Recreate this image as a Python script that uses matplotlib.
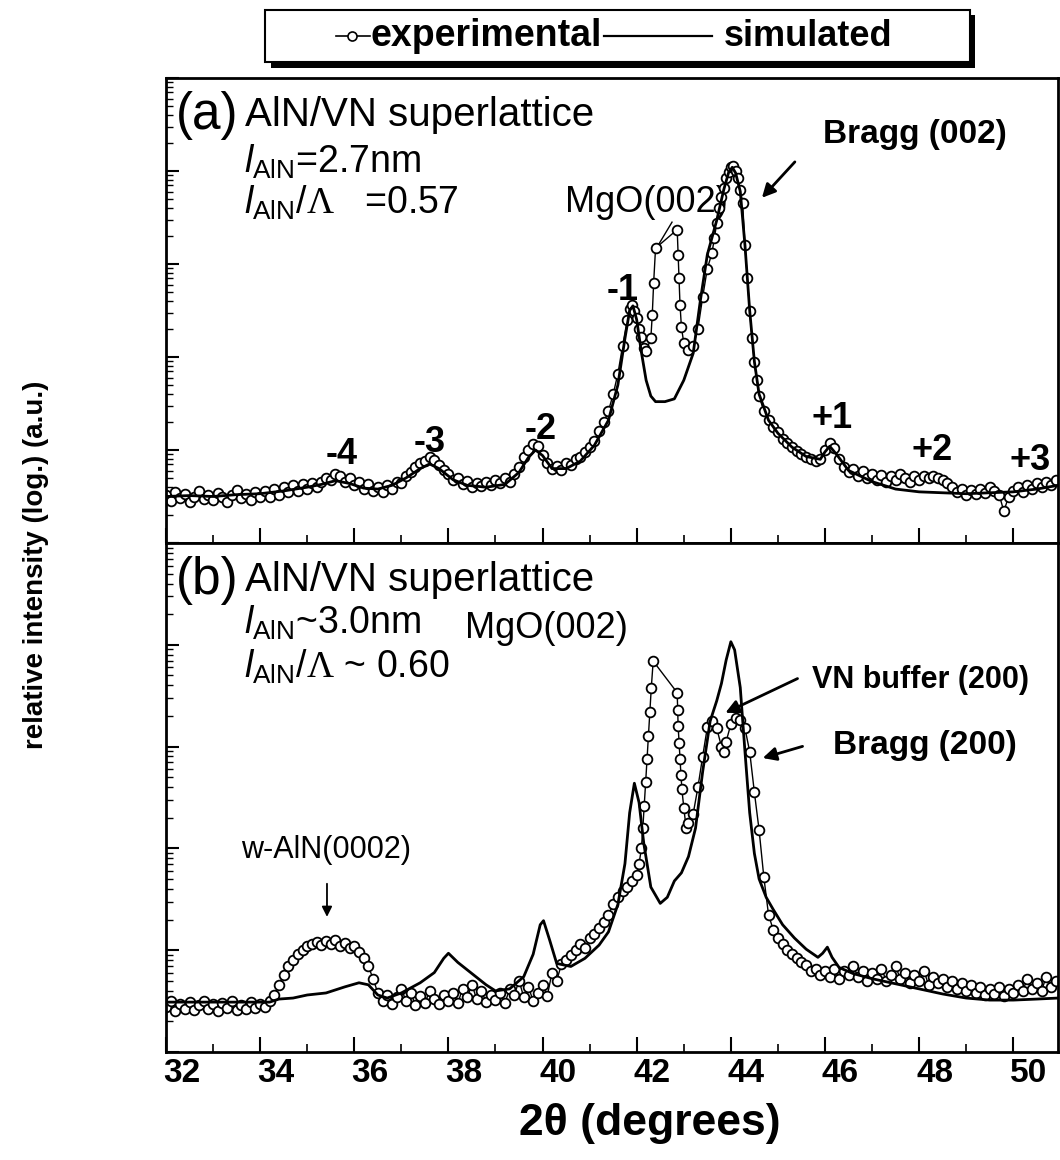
import numpy as np
import matplotlib
matplotlib.use("Agg")
import matplotlib.pyplot as plt
import matplotlib.transforms as mtransforms
from matplotlib.lines import Line2D
from matplotlib.patches import Rectangle
from matplotlib.ticker import MultipleLocator, LogLocator, NullFormatter

plt.rcParams['font.family'] = ['Liberation Sans', 'DejaVu Sans']
plt.rcParams['mathtext.fontset'] = 'custom'
plt.rcParams['mathtext.rm'] = 'Liberation Sans'
plt.rcParams['mathtext.it'] = 'Liberation Sans:italic'
plt.rcParams['mathtext.bf'] = 'Liberation Sans:bold'
plt.rcParams['mathtext.sf'] = 'Liberation Serif'

# ---------------- data (log10 of relative intensity) ----------------
# panel (a) experimental
exp_a_x = [32.0, 32.1, 32.2, 32.3, 32.4, 32.5, 32.6, 32.7, 32.8, 32.9,
           33.0, 33.1, 33.2, 33.3, 33.4, 33.5, 33.6, 33.7, 33.8, 33.9,
           34.0, 34.1, 34.2, 34.3, 34.4, 34.5, 34.6, 34.7, 34.8, 34.9,
           35.0, 35.1, 35.2, 35.3, 35.4, 35.5, 35.6, 35.7, 35.8, 35.9,
           36.0, 36.1, 36.2, 36.3, 36.4, 36.5, 36.6, 36.7, 36.8, 36.9,
           37.0, 37.1, 37.2, 37.3, 37.4, 37.5, 37.6, 37.7, 37.8, 37.9,
           38.0, 38.1, 38.2, 38.3, 38.4, 38.5, 38.6, 38.7, 38.8, 38.9,
           39.0, 39.1, 39.2, 39.3, 39.4, 39.5, 39.6, 39.7, 39.8, 39.9,
           40.0, 40.1, 40.2, 40.3, 40.4, 40.5, 40.6, 40.7, 40.8, 40.9,
           41.0, 41.1, 41.2, 41.3, 41.4, 41.5, 41.6, 41.7, 41.8, 41.85,
           41.9, 41.95, 42.0, 42.05, 42.1, 42.15, 42.2, 42.3, 42.33, 42.36,
           42.4, 42.86, 42.88, 42.9, 42.92, 42.95, 43.0, 43.1, 43.2, 43.3,
           43.4, 43.5, 43.6, 43.65, 43.7, 43.75, 43.8, 43.85, 43.9, 43.95,
           44.0, 44.05, 44.1, 44.15, 44.2, 44.25, 44.3, 44.35, 44.4, 44.45,
           44.5, 44.55, 44.6, 44.7, 44.8, 44.9, 45.0, 45.1, 45.2, 45.3,
           45.4, 45.5, 45.6, 45.7, 45.8, 45.9, 46.0, 46.1, 46.2, 46.3,
           46.4, 46.5, 46.6, 46.7, 46.8, 46.9, 47.0, 47.1, 47.2, 47.3,
           47.4, 47.5, 47.6, 47.7, 47.8, 47.9, 48.0, 48.1, 48.2, 48.3,
           48.4, 48.5, 48.6, 48.7, 48.8, 48.9, 49.0, 49.1, 49.2, 49.3,
           49.4, 49.5, 49.6, 49.7, 49.8, 49.9, 50.0, 50.1, 50.2, 50.3,
           50.4, 50.5, 50.6, 50.7, 50.8, 50.9]
exp_a_log = [0.52, 0.45, 0.55, 0.48, 0.53, 0.44, 0.50, 0.56, 0.47, 0.52,
             0.46, 0.54, 0.49, 0.44, 0.52, 0.57, 0.48, 0.53, 0.46, 0.55,
             0.50, 0.56, 0.49, 0.58, 0.52, 0.60, 0.55, 0.62, 0.56, 0.63,
             0.58, 0.64, 0.60, 0.66, 0.70, 0.68, 0.74, 0.72, 0.66, 0.70,
             0.62, 0.66, 0.58, 0.63, 0.56, 0.60, 0.55, 0.62, 0.58, 0.66,
             0.64, 0.72, 0.76, 0.82, 0.86, 0.88, 0.92, 0.89, 0.84, 0.78,
             0.74, 0.68, 0.70, 0.63, 0.67, 0.60, 0.65, 0.61, 0.66, 0.62,
             0.68, 0.64, 0.70, 0.66, 0.74, 0.82, 0.92, 1.00, 1.06, 1.04,
             0.95, 0.86, 0.80, 0.83, 0.78, 0.86, 0.84, 0.90, 0.92, 0.98,
             1.03, 1.10, 1.20, 1.30, 1.42, 1.60, 1.82, 2.12, 2.40, 2.52,
             2.56, 2.50, 2.42, 2.30, 2.22, 2.10, 2.06, 2.20, 2.45, 2.80,
             3.17, 3.37, 3.10, 2.85, 2.56, 2.32, 2.15, 2.08, 2.12, 2.30,
             2.64, 2.95, 3.12, 3.28, 3.44, 3.60, 3.72, 3.82, 3.92, 3.99,
             4.04, 4.05, 4.00, 3.92, 3.80, 3.66, 3.20, 2.85, 2.50, 2.20,
             1.95, 1.75, 1.58, 1.42, 1.32, 1.25, 1.19, 1.12, 1.07, 1.03,
             0.99, 0.96, 0.93, 0.90, 0.88, 0.90, 1.00, 1.07, 1.02, 0.90,
             0.82, 0.76, 0.80, 0.72, 0.77, 0.70, 0.74, 0.68, 0.73, 0.66,
             0.72, 0.68, 0.74, 0.70, 0.66, 0.72, 0.68, 0.72, 0.70, 0.72,
             0.70, 0.68, 0.64, 0.60, 0.55, 0.58, 0.52, 0.57, 0.53, 0.58,
             0.54, 0.60, 0.56, 0.52, 0.34, 0.50, 0.56, 0.60, 0.55, 0.62,
             0.58, 0.64, 0.60, 0.66, 0.62, 0.68]

# panel (a) simulated
sim_a_x = [32.0, 32.5, 33.0, 33.5, 34.0, 34.5, 35.0, 35.3, 35.6, 35.9,
           36.2, 36.5, 36.8, 37.1, 37.4, 37.6, 37.8, 38.1, 38.4, 38.8,
           39.2, 39.5, 39.7, 39.85, 40.0, 40.2, 40.5, 40.8, 41.1, 41.4,
           41.6, 41.75, 41.85, 41.92, 42.0, 42.1, 42.2, 42.3, 42.4, 42.6,
           42.8, 43.0, 43.2, 43.35, 43.5, 43.7, 43.85, 43.95, 44.03, 44.1,
           44.2, 44.3, 44.4, 44.5, 44.6, 44.8, 45.0, 45.3, 45.6, 45.9,
           46.0, 46.1, 46.25, 46.5, 47.0, 47.5, 48.0, 48.5, 49.0, 49.5,
           50.0, 50.5, 50.95]
sim_a_log = [0.50, 0.51, 0.50, 0.52, 0.53, 0.56, 0.60, 0.63, 0.67, 0.64,
             0.59, 0.58, 0.62, 0.70, 0.80, 0.85, 0.80, 0.68, 0.62, 0.60,
             0.63, 0.76, 0.92, 1.00, 0.94, 0.80, 0.80, 0.88, 1.05, 1.32,
             1.70, 2.20, 2.50, 2.55, 2.40, 2.05, 1.75, 1.58, 1.52, 1.52,
             1.55, 1.75, 2.04, 2.60, 3.10, 3.47, 3.80, 3.98, 4.04, 3.98,
             3.78, 3.20, 2.50, 1.95, 1.60, 1.32, 1.18, 1.03, 0.93, 0.90,
             0.98, 1.04, 0.95, 0.78, 0.66, 0.58, 0.55, 0.54, 0.53, 0.54,
             0.55, 0.58, 0.62]

# panel (b) experimental
exp_b_x = [32.0, 32.1, 32.2, 32.3, 32.4, 32.5, 32.6, 32.7, 32.8, 32.9,
           33.0, 33.1, 33.2, 33.3, 33.4, 33.5, 33.6, 33.7, 33.8, 33.9,
           34.0, 34.1, 34.2, 34.3, 34.4, 34.5, 34.6, 34.7, 34.8, 34.9,
           35.0, 35.1, 35.2, 35.3, 35.4, 35.5, 35.6, 35.7, 35.8, 35.9,
           36.0, 36.1, 36.2, 36.3, 36.4, 36.5, 36.6, 36.7, 36.8, 36.9,
           37.0, 37.1, 37.2, 37.3, 37.4, 37.5, 37.6, 37.7, 37.8, 37.9,
           38.0, 38.1, 38.2, 38.3, 38.4, 38.5, 38.6, 38.7, 38.8, 38.9,
           39.0, 39.1, 39.2, 39.3, 39.4, 39.5, 39.6, 39.7, 39.8, 39.9,
           40.0, 40.1, 40.2, 40.3, 40.4, 40.5, 40.6, 40.7, 40.8, 40.9,
           41.0, 41.1, 41.2, 41.3, 41.4, 41.5, 41.6, 41.7, 41.8, 41.9,
           42.0, 42.05, 42.1, 42.13, 42.16, 42.19, 42.22, 42.25, 42.28, 42.31,
           42.35, 42.86, 42.87, 42.88, 42.9, 42.92, 42.94, 42.96, 43.0, 43.05,
           43.1, 43.2, 43.3, 43.4, 43.5, 43.6, 43.7, 43.8, 43.85, 43.9,
           44.0, 44.1, 44.2, 44.3, 44.4, 44.5, 44.6, 44.7, 44.8, 44.9,
           45.0, 45.1, 45.2, 45.3, 45.4, 45.5, 45.6, 45.7, 45.8, 45.9,
           46.0, 46.1, 46.2, 46.3, 46.4, 46.5, 46.6, 46.7, 46.8, 46.9,
           47.0, 47.1, 47.2, 47.3, 47.4, 47.5, 47.6, 47.7, 47.8, 47.9,
           48.0, 48.1, 48.2, 48.3, 48.4, 48.5, 48.6, 48.7, 48.8, 48.9,
           49.0, 49.1, 49.2, 49.3, 49.4, 49.5, 49.6, 49.7, 49.8, 49.9,
           50.0, 50.1, 50.2, 50.3, 50.4, 50.5, 50.6, 50.7, 50.8, 50.9]
exp_b_log = [0.44, 0.50, 0.40, 0.47, 0.42, 0.49, 0.41, 0.46, 0.50, 0.42,
             0.47, 0.40, 0.48, 0.43, 0.50, 0.41, 0.46, 0.42, 0.49, 0.43,
             0.47, 0.44, 0.50, 0.56, 0.66, 0.76, 0.84, 0.90, 0.96, 1.00,
             1.04, 1.06, 1.08, 1.05, 1.09, 1.06, 1.10, 1.04, 1.07, 1.02,
             1.04, 0.98, 0.92, 0.84, 0.72, 0.58, 0.50, 0.56, 0.47, 0.54,
             0.62, 0.50, 0.58, 0.46, 0.55, 0.48, 0.60, 0.52, 0.47, 0.56,
             0.50, 0.58, 0.48, 0.62, 0.54, 0.66, 0.52, 0.60, 0.49, 0.56,
             0.51, 0.58, 0.48, 0.62, 0.56, 0.70, 0.54, 0.64, 0.50, 0.58,
             0.66, 0.55, 0.78, 0.70, 0.86, 0.90, 0.95, 1.00, 1.06, 1.02,
             1.12, 1.16, 1.22, 1.28, 1.35, 1.45, 1.52, 1.58, 1.62, 1.68,
             1.74, 1.85, 2.00, 2.20, 2.42, 2.65, 2.88, 3.10, 3.34, 3.58,
             3.84, 3.53, 3.36, 3.20, 3.04, 2.88, 2.72, 2.58, 2.40, 2.20,
             2.25, 2.34, 2.60, 2.90, 3.19, 3.25, 3.18, 3.00, 2.95, 3.05,
             3.22, 3.28, 3.26, 3.18, 2.95, 2.55, 2.18, 1.72, 1.35, 1.20,
             1.12, 1.06, 1.00, 0.96, 0.92, 0.88, 0.85, 0.80, 0.82, 0.76,
             0.80, 0.74, 0.82, 0.72, 0.80, 0.76, 0.84, 0.74, 0.80, 0.70,
             0.78, 0.72, 0.82, 0.70, 0.76, 0.84, 0.72, 0.78, 0.68, 0.76,
             0.70, 0.80, 0.66, 0.74, 0.68, 0.72, 0.64, 0.70, 0.62, 0.68,
             0.60, 0.66, 0.58, 0.64, 0.56, 0.62, 0.57, 0.64, 0.55, 0.62,
             0.58, 0.66, 0.60, 0.72, 0.62, 0.68, 0.60, 0.74, 0.64, 0.70]

# panel (b) simulated
sim_b_x = [32.0, 33.0, 34.0, 34.2, 34.4, 34.7, 35.0, 35.4, 35.8, 36.1,
           36.3, 36.5, 36.7, 37.0, 37.4, 37.7, 37.9, 38.0, 38.2, 38.5,
           38.8, 39.0, 39.3, 39.6, 39.8, 39.95, 40.02, 40.15, 40.3, 40.6,
           40.9, 41.2, 41.4, 41.6, 41.75, 41.85, 41.95, 42.05, 42.15, 42.3,
           42.5, 42.65, 42.8, 42.95, 43.1, 43.25, 43.4, 43.56, 43.7, 43.8,
           43.9, 44.0, 44.08, 44.2, 44.3, 44.4, 44.5, 44.6, 44.75, 44.9,
           45.1, 45.35, 45.6, 45.85, 45.95, 46.05, 46.15, 46.3, 46.6, 47.0,
           47.5, 48.0, 48.5, 49.0, 49.5, 50.0, 50.5, 50.95]
sim_b_log = [0.49, 0.49, 0.49, 0.49, 0.52, 0.53, 0.56, 0.58, 0.64, 0.68,
             0.66, 0.56, 0.53, 0.58, 0.68, 0.78, 0.92, 0.97, 0.88, 0.77,
             0.66, 0.60, 0.62, 0.74, 0.96, 1.25, 1.29, 1.10, 0.87, 0.84,
             0.92, 1.05, 1.18, 1.45, 1.85, 2.35, 2.64, 2.45, 2.05, 1.62,
             1.46, 1.52, 1.68, 1.76, 1.92, 2.20, 2.75, 3.25, 3.45, 3.62,
             3.85, 4.03, 3.95, 3.58, 2.95, 2.35, 1.95, 1.70, 1.52, 1.40,
             1.25, 1.12, 1.01, 0.93, 0.97, 1.03, 0.93, 0.83, 0.77, 0.72,
             0.67, 0.62, 0.57, 0.53, 0.51, 0.51, 0.52, 0.53]

order_labels_a = ['-4', '-3', '-2', '-1', '+1', '+2', '+3']
order_x_a = [35.74, 37.6, 39.95, 41.7, 46.15, 48.27, 50.36]
order_y_a = [0.95, 1.08, 1.22, 2.72, 1.34, 1.00, 0.89]

legend_labels = ['experimental', 'simulated']

# ---------------- figure ----------------
W, H = 1060, 1160
fig = plt.figure(figsize=(W / 100, H / 100), dpi=100)

def fx(px):
    return px / W

def fy(py):
    return 1 - py / H

left, right = fx(166), fx(1058)
ax_a = fig.add_axes([left, fy(543), right - left, fy(78) - fy(543)])
ax_b = fig.add_axes([left, fy(1052), right - left, fy(543) - fy(1052)])

exp_style = dict(color='black', lw=1.0, marker='o', ms=7, mfc='white',
                 mec='black', mew=1.3, zorder=2)
sim_style = dict(color='black', lw=2.0, zorder=3)

for ax, ex, ey, sx, sy in [(ax_a, exp_a_x, exp_a_log, sim_a_x, sim_a_log),
                            (ax_b, exp_b_x, exp_b_log, sim_b_x, sim_b_log)]:
    ax.plot(ex, 10 ** np.array(ey), **exp_style)
    ax.plot(sx, 10 ** np.array(sy), **sim_style)
    ax.set_yscale('log')
    ax.set_ylim(1, 1e5)
    ax.set_xlim(32, 50.95)
    ax.yaxis.set_major_locator(LogLocator(base=10, numticks=10))
    ax.yaxis.set_minor_locator(LogLocator(base=10, subs=np.arange(2, 10), numticks=20))
    ax.yaxis.set_major_formatter(NullFormatter())
    ax.yaxis.set_minor_formatter(NullFormatter())
    ax.xaxis.set_major_locator(MultipleLocator(2))
    ax.xaxis.set_minor_locator(MultipleLocator(1))
    ax.tick_params(axis='y', which='major', direction='in', length=9, width=1.5, left=True, right=False)
    ax.tick_params(axis='y', which='minor', direction='in', length=5, width=1.0, left=True, right=False)
    ax.tick_params(axis='x', which='major', direction='in', length=11, width=1.5, top=False)
    ax.tick_params(axis='x', which='minor', direction='in', length=6, width=1.2, top=False)
    for sp in ax.spines.values():
        sp.set_linewidth(2.0)

ax_a.tick_params(axis='x', labelbottom=False)
ax_b.tick_params(axis='x', labelsize=24, pad=4)
shift = mtransforms.ScaledTranslation(-3 / 100, 0, fig.dpi_scale_trans)
for lab in ax_b.get_xticklabels():
    lab.set_fontweight('bold')
    lab.set_horizontalalignment('left')
    lab.set_transform(lab.get_transform() + shift)

# ---------------- panel (a) text ----------------
ax_a.text(0.011, 0.92, '(a)', transform=ax_a.transAxes, fontsize=37, va='center', ha='left')
ax_a.text(0.0886, 0.92, 'AlN/VN superlattice', transform=ax_a.transAxes, fontsize=29,
          va='center', ha='left')
ax_a.text(0.088, 0.819, r'$l_{\mathrm{AlN}}$=2.7nm', transform=ax_a.transAxes, fontsize=27,
          va='center', ha='left')
ax_a.text(0.088, 0.731, r'$l_{\mathrm{AlN}}/\mathsf{\Lambda}$   =0.57', transform=ax_a.transAxes,
          fontsize=27, va='center', ha='left')
ax_a.text(40.48, 10 ** 3.66, 'MgO(002)', fontsize=26, ha='left', va='center', zorder=1)
ax_a.plot([42.75, 42.43], [10 ** 3.45, 10 ** 3.18], color='black', lw=1.0, zorder=1)
ax_a.text(47.91, 10 ** 4.39, 'Bragg (002)', fontsize=24, fontweight='bold', ha='center', va='center')
ax_a.annotate('', xy=(44.62, 10 ** 3.69), xytext=(45.4, 10 ** 4.12),
              arrowprops=dict(arrowstyle='-|>', color='black', lw=2.0, mutation_scale=20))
for lab, x, y in zip(order_labels_a, order_x_a, order_y_a):
    ax_a.text(x, 10 ** y, lab, fontsize=26, fontweight='bold', ha='center', va='center')

# ---------------- panel (b) text ----------------
ax_b.text(0.011, 0.927, '(b)', transform=ax_b.transAxes, fontsize=37, va='center', ha='left')
ax_b.text(0.0886, 0.927, 'AlN/VN superlattice', transform=ax_b.transAxes, fontsize=29,
          va='center', ha='left')
ax_b.text(0.088, 0.843, r'$l_{\mathrm{AlN}}$~3.0nm', transform=ax_b.transAxes, fontsize=27,
          va='center', ha='left')
ax_b.text(38.35, 10 ** 4.16, 'MgO(002)', fontsize=26, va='center', ha='left')
ax_b.text(0.088, 0.756, r'$l_{\mathrm{AlN}}/\mathsf{\Lambda}$ ~ 0.60', transform=ax_b.transAxes,
          fontsize=27, va='center', ha='left')
ax_b.text(35.4, 10 ** 1.98, 'w-AlN(0002)', fontsize=22, ha='center', va='center')
ax_b.annotate('', xy=(35.42, 10 ** 1.3), xytext=(35.42, 10 ** 1.68),
              arrowprops=dict(arrowstyle='-|>', color='black', lw=1.3, mutation_scale=15))
ax_b.text(48.02, 10 ** 3.65, 'VN buffer (200)', fontsize=22, fontweight='bold', ha='center', va='center')
ax_b.annotate('', xy=(43.83, 10 ** 3.32), xytext=(45.47, 10 ** 3.68),
              arrowprops=dict(arrowstyle='-|>', color='black', lw=2.0, mutation_scale=20))
ax_b.text(48.12, 10 ** 3.01, 'Bragg (200)', fontsize=24, fontweight='bold', ha='center', va='center')
ax_b.annotate('', xy=(44.62, 10 ** 2.88), xytext=(45.58, 10 ** 3.01),
              arrowprops=dict(arrowstyle='-|>', color='black', lw=2.0, mutation_scale=20))

# ---------------- axis labels ----------------
fig.text(fx(650), fy(1124), '2θ (degrees)', fontsize=32, fontweight='bold',
         ha='center', va='center')
fig.text(fx(36), fy(565), 'relative intensity (log.) (a.u.)', fontsize=20, fontweight='bold',
         rotation=90, ha='center', va='center')

# ---------------- legend (drawn as a boxed key) ----------------
fig.add_artist(Rectangle((fx(271), fy(68)), fx(975) - fx(271), fy(15) - fy(68),
                         transform=fig.transFigure, facecolor='black', edgecolor='none', zorder=5))
fig.add_artist(Rectangle((fx(265), fy(62)), fx(970) - fx(265), fy(10) - fy(62),
                         transform=fig.transFigure, facecolor='white', edgecolor='black',
                         lw=1.5, zorder=6))
ly = fy(36)
fig.add_artist(Line2D([fx(336), fx(370)], [ly, ly], transform=fig.transFigure, color='black',
                      lw=1.2, zorder=7))
fig.add_artist(Line2D([fx(352)], [ly], transform=fig.transFigure, color='black', marker='o',
                      ms=6.5, mfc='white', mec='black', mew=1.2, zorder=8))
fig.text(fx(370), ly, legend_labels[0], fontsize=27, fontweight='bold', ha='left', va='center',
         zorder=8)
fig.add_artist(Line2D([fx(604), fx(712)], [ly, ly], transform=fig.transFigure, color='black',
                      lw=1.6, zorder=7))
fig.text(fx(724), ly, legend_labels[1], fontsize=26, fontweight='bold', ha='left', va='center',
         zorder=8)

fig.savefig('out.png', dpi=100)
